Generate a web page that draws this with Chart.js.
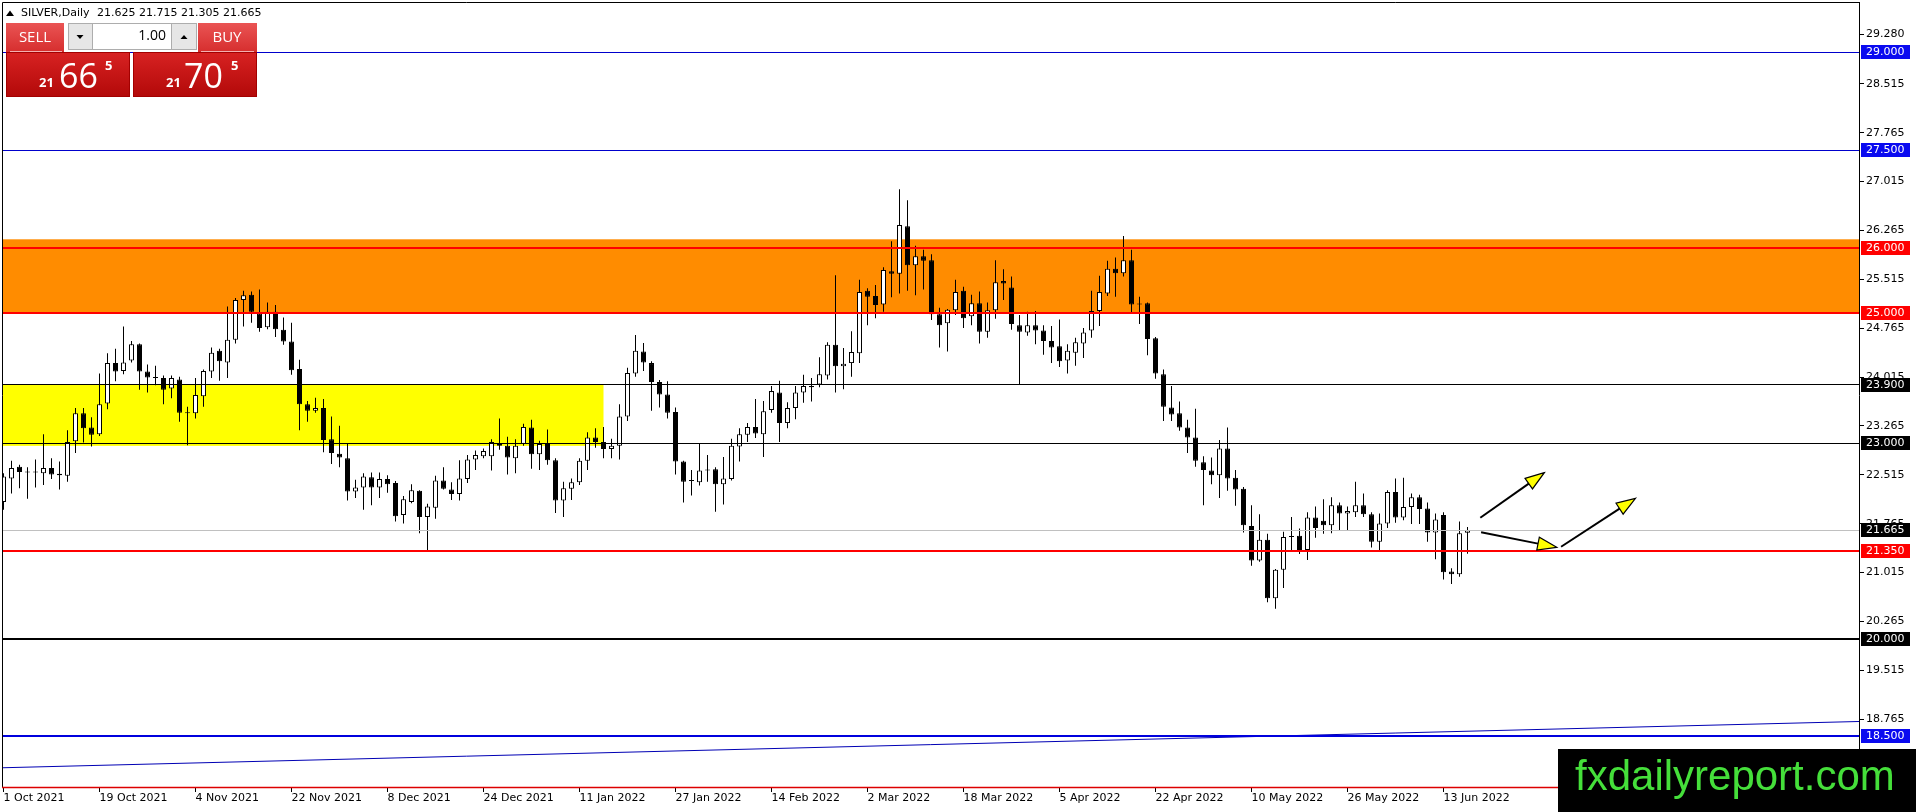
<!DOCTYPE html>
<html>
<head>
<meta charset="utf-8">
<script src="https://cdn.jsdelivr.net/npm/chart.js@4.4.1/dist/chart.umd.min.js"></script>
<style>
html,body{margin:0;padding:0;background:#fff;overflow:hidden}
canvas{display:block}
</style>
</head>
<body>
<canvas id="c" width="1916" height="812" style="width:1916px;height:812px"></canvas>
<script>
// ---------------- DATA ----------------
const symbolTitle = 'SILVER,Daily';
const lastOHLC = ['21.625', '21.715', '21.305', '21.665'];
const bidQuote = ['21', '66', '5'];
const askQuote = ['21', '70', '5'];
const lotSize = '1.00';

const openP = [
22.10,22.46,22.64,22.56,22.56,22.54,22.62,22.53,22.50,23.03,
23.46,23.24,23.14,23.61,24.23,24.11,24.27,24.52,24.10,24.01,
24.00,23.84,23.98,23.47,23.46,23.72,24.10,24.42,24.24,24.59,
25.20,25.28,24.99,24.78,25.02,24.74,24.56,24.14,23.60,23.50,
23.54,23.06,22.84,22.77,22.26,22.32,22.48,22.32,22.45,22.39,
21.90,22.10,22.27,21.87,22.01,22.43,22.29,22.22,22.45,22.75,
22.80,22.80,22.99,22.96,22.77,22.99,23.24,22.83,22.99,22.74,
22.12,22.30,22.40,22.73,23.09,23.02,22.91,22.96,23.41,24.07,
24.41,24.23,23.94,23.75,23.48,22.72,22.43,22.40,22.59,22.60,
22.37,22.45,22.95,23.13,23.25,23.14,23.51,23.78,23.31,23.54,
23.78,23.86,23.90,24.04,24.51,24.18,24.23,24.38,25.34,25.26,
25.13,25.64,25.60,26.33,25.73,25.87,25.81,24.98,24.84,25.04,
25.34,24.95,25.15,24.71,25.04,25.49,25.39,24.81,24.70,24.81,
24.73,24.57,24.49,24.27,24.39,24.53,24.73,25.03,25.30,25.68,
25.61,25.81,25.14,25.15,24.61,24.06,23.55,23.46,23.24,23.09,
22.71,22.58,22.51,22.92,22.47,22.30,21.73,21.20,21.52,20.62,
21.06,21.56,21.58,21.36,21.86,21.81,21.74,22.05,21.92,21.94,
22.05,21.91,21.49,21.77,22.25,21.86,22.02,22.17,22.00,21.63,
21.90,21.03,20.99,21.625];

const highP = [
22.54,22.73,22.67,22.63,22.75,23.14,22.77,22.72,23.20,23.54,
23.54,23.40,24.07,24.38,24.45,24.79,24.57,24.53,24.21,24.19,
24.04,24.04,24.02,23.56,24.00,24.13,24.47,24.45,25.10,25.23,
25.34,25.33,25.36,25.16,25.12,24.93,24.85,24.28,23.65,23.70,
23.68,23.41,23.27,23.00,22.44,22.54,22.55,22.55,22.51,22.42,
22.19,22.37,22.28,22.07,22.50,22.63,22.40,22.74,22.82,22.89,
22.92,23.06,23.38,23.10,23.06,23.30,23.36,23.04,23.21,22.77,
22.41,22.46,22.77,23.17,23.23,23.25,23.07,23.60,24.16,24.66,
24.54,24.26,23.97,23.95,23.55,22.73,22.59,23.00,22.82,22.63,
22.79,23.07,23.23,23.31,23.68,23.65,23.88,23.96,23.63,23.88,
24.05,24.00,24.32,24.55,25.58,24.46,24.72,25.51,25.38,25.43,
25.70,26.10,26.90,26.73,26.03,25.97,25.90,25.08,25.06,25.51,
25.40,25.28,25.33,25.16,25.81,25.67,25.56,24.97,25.02,25.03,
24.81,24.80,24.90,24.52,24.62,24.77,25.34,25.57,25.80,25.85,
26.18,25.97,25.25,25.16,24.63,24.13,23.88,23.64,23.36,23.53,
22.80,22.78,23.05,23.24,22.59,22.33,22.05,21.91,21.61,21.07,
21.64,21.87,21.69,21.94,22.03,22.14,22.17,22.09,22.03,22.41,
22.23,21.94,21.92,22.28,22.46,22.47,22.23,22.21,22.09,21.92,
21.94,21.08,21.80,21.715];

const lowP = [
21.98,22.23,22.31,22.15,22.32,22.36,22.45,22.29,22.41,22.85,
23.01,22.95,23.11,23.52,23.95,24.06,24.24,23.82,23.78,23.89,
23.60,23.69,23.33,22.97,23.38,23.56,24.00,23.96,24.00,24.53,
24.79,24.85,24.71,24.75,24.63,24.51,24.05,23.20,23.33,23.47,
22.86,22.68,22.63,22.12,22.16,21.98,22.05,22.16,22.24,21.80,
21.77,22.08,21.62,21.36,21.84,22.29,22.13,22.12,22.39,22.59,
22.77,22.58,22.90,22.52,22.54,22.96,22.61,22.59,22.67,21.93,
21.87,22.13,22.36,22.59,22.93,22.77,22.77,22.75,23.34,24.02,
24.11,23.50,23.55,23.38,22.52,22.09,22.20,22.35,22.41,21.95,
22.06,22.43,22.72,23.02,23.08,22.79,23.47,23.02,23.23,23.37,
23.62,23.64,23.86,23.98,23.78,23.83,24.02,24.23,24.81,24.92,
25.02,25.24,25.30,25.34,25.27,25.36,24.89,24.47,24.41,24.97,
24.77,24.81,24.53,24.62,24.91,25.20,24.74,23.91,24.65,24.52,
24.36,24.23,24.17,24.07,24.19,24.31,24.62,24.80,25.26,25.25,
25.56,25.01,24.83,24.35,23.99,23.34,23.34,23.19,22.85,22.64,
22.05,22.37,22.16,22.27,22.04,21.63,21.12,21.18,20.56,20.46,
20.78,21.36,21.30,21.21,21.55,21.61,21.62,21.67,21.66,21.87,
21.87,21.40,21.36,21.70,21.78,21.82,21.76,21.76,21.49,21.22,
20.91,20.84,20.95,21.305];

const closeP = [
22.49,22.62,22.56,22.55,22.55,22.62,22.52,22.51,23.02,23.46,
23.23,23.13,23.60,24.23,24.10,24.24,24.52,24.10,24.01,24.00,
23.82,24.00,23.47,23.46,23.74,24.11,24.39,24.26,24.59,25.20,
25.27,25.02,24.77,25.02,24.75,24.56,24.12,23.60,23.50,23.54,
23.05,22.85,22.78,22.26,22.32,22.49,22.32,22.45,22.37,21.88,
22.14,22.28,21.87,22.03,22.43,22.30,22.22,22.46,22.75,22.82,
22.88,23.02,22.96,22.78,22.96,23.25,22.83,22.99,22.74,22.12,
22.31,22.40,22.73,23.09,23.02,22.91,22.96,23.41,24.08,24.42,
24.24,23.94,23.75,23.47,22.72,22.41,22.42,22.58,22.58,22.37,
22.46,22.96,23.14,23.25,23.15,23.49,23.80,23.31,23.54,23.78,
23.88,23.88,24.06,24.51,24.18,24.22,24.40,25.32,25.25,25.12,
25.66,25.60,26.35,25.73,25.87,25.80,24.98,24.81,25.05,25.32,
24.92,25.15,24.71,25.04,25.47,25.45,24.83,24.71,24.81,24.73,
24.57,24.47,24.26,24.42,24.55,24.70,25.03,25.32,25.68,25.61,
25.81,25.13,25.13,24.60,24.07,23.56,23.44,23.24,23.09,22.73,
22.59,22.51,22.92,22.46,22.29,21.74,21.20,21.52,20.62,21.06,
21.56,21.57,21.33,21.86,21.70,21.74,22.05,21.92,21.96,22.05,
21.91,21.49,21.77,22.25,21.86,22.02,22.17,21.99,21.63,21.83,
21.02,20.99,21.62,21.665];

// time axis labels, one every 12 bars
const dateLabels = ['1 Oct 2021','19 Oct 2021','4 Nov 2021','22 Nov 2021','8 Dec 2021','24 Dec 2021',
  '11 Jan 2022','27 Jan 2022','14 Feb 2022','2 Mar 2022','18 Mar 2022','5 Apr 2022','22 Apr 2022',
  '10 May 2022','26 May 2022','13 Jun 2022'];
const labelEvery = 12;

// price axis tick labels
const yTickValues = [29.280,28.515,27.765,27.015,26.265,25.515,24.765,24.015,23.265,22.515,21.765,21.015,20.265,19.515,18.765];

// horizontal levels
const levelPrices = [29.0, 27.5, 26.0, 25.0, 23.9, 23.0, 21.665, 21.35, 20.0, 18.5];
// zones (price bands)
const zoneLow  = [25.0, 22.96];
const zoneHigh = [26.13, 23.90];
const zoneEndBar = [null, 75.0];
// trend line anchors
const trendBars = [-1, 232];
const trendPrices = [18.017, 18.73];
// arrows
const arrowFromBar   = [184.6, 184.7, 194.7];
const arrowFromPrice = [21.857, 21.633, 21.412];
const arrowToBar     = [192.6, 194.15, 204.0];
const arrowToPrice   = [22.548, 21.403, 22.155];

// ---------------- STYLES ----------------
const levelStyles = [
  {line:'#0000cc', w:1, box:'#0a0af0'},
  {line:'#0000cc', w:1, box:'#0a0af0'},
  {line:'#ff0000', w:2, box:'#ff0000'},
  {line:'#ff0000', w:2, box:'#ff0000'},
  {line:'#000000', w:1, box:'#000000'},
  {line:'#000000', w:1, box:'#000000'},
  {line:'#c0c0c0', w:1, box:'#000000'},
  {line:'#ff0000', w:2, box:'#ff0000'},
  {line:'#000000', w:2, box:'#000000'},
  {line:'#0000dd', w:2, box:'#0a0af0'}
];
const zoneColors = ['#ff8c00', '#ffff00'];
const X_MIN = -0.0625, X_MAX = 231.9375;
const Y_MIN = 17.709, Y_MAX = 29.772;
const AXIS_FONT = {family: 'DejaVu Sans', size: 11};

const wickData = openP.map((o, i) => ({x: i, y: [lowP[i], highP[i]]}));
const bodyData = openP.map((o, i) => ({x: i, y: [Math.min(o, closeP[i]), Math.max(o, closeP[i])]}));
const bodyFill = openP.map((o, i) => (closeP[i] - o) >= 0.03 ? '#ffffff' : '#000000');
const trendData = trendBars.map((b, k) => ({x: b, y: trendPrices[k]}));

function crisp(p, w) { return (w % 2 === 1) ? Math.floor(p) + 0.5 : Math.round(p); }
function vgrad(ctx, x, y, w, h, c1, c2) {
  const g = ctx.createLinearGradient(0, y, 0, y + h);
  g.addColorStop(0, c1); g.addColorStop(1, c2);
  ctx.fillStyle = g; ctx.fillRect(x, y, w, h);
}

const mt4Plugin = {
  id: 'mt4',
  beforeDraw(chart) {
    const c = chart.ctx; c.save(); c.fillStyle = '#fff'; c.fillRect(0, 0, chart.width, chart.height); c.restore();
  },
  beforeDatasetsDraw(chart) {
    const {ctx, chartArea: a, scales: {x, y}} = chart;
    ctx.save();
    ctx.beginPath(); ctx.rect(a.left, a.top, a.right - a.left, a.bottom - a.top); ctx.clip();
    zoneLow.forEach((lo, k) => {
      const x1 = a.left;
      const x2 = zoneEndBar[k] == null ? a.right : x.getPixelForValue(zoneEndBar[k]);
      const y1 = y.getPixelForValue(zoneHigh[k]);
      const y2 = y.getPixelForValue(lo);
      ctx.fillStyle = zoneColors[k];
      ctx.fillRect(x1, y1, x2 - x1, y2 - y1);
    });
    ctx.restore();
  },
  afterDatasetsDraw(chart) {
    const {ctx, chartArea: a, scales: {x, y}} = chart;
    ctx.save();
    ctx.beginPath(); ctx.rect(a.left, a.top, a.right - a.left, a.bottom - a.top); ctx.clip();
    levelPrices.forEach((p, k) => {
      const st = levelStyles[k];
      const py = crisp(y.getPixelForValue(p), st.w);
      ctx.strokeStyle = st.line; ctx.lineWidth = st.w;
      ctx.beginPath(); ctx.moveTo(a.left, py); ctx.lineTo(a.right, py); ctx.stroke();
    });
    // arrows
    arrowFromBar.forEach((b, k) => {
      const x1 = x.getPixelForValue(b), y1 = y.getPixelForValue(arrowFromPrice[k]);
      const x2 = x.getPixelForValue(arrowToBar[k]), y2 = y.getPixelForValue(arrowToPrice[k]);
      const ang = Math.atan2(y2 - y1, x2 - x1);
      const L = 19, H = 6.5;
      const bx = x2 - L * Math.cos(ang), by = y2 - L * Math.sin(ang);
      ctx.strokeStyle = '#000'; ctx.lineWidth = 2; ctx.lineCap = 'butt';
      ctx.beginPath(); ctx.moveTo(x1, y1); ctx.lineTo(bx, by); ctx.stroke();
      ctx.beginPath();
      ctx.moveTo(x2, y2);
      ctx.lineTo(bx + H * Math.sin(ang), by - H * Math.cos(ang));
      ctx.lineTo(bx - H * Math.sin(ang), by + H * Math.cos(ang));
      ctx.closePath();
      ctx.fillStyle = '#ffff00'; ctx.fill();
      ctx.lineWidth = 1.2; ctx.strokeStyle = '#000'; ctx.stroke();
    });
    ctx.restore();
  },
  afterDraw(chart) {
    const {ctx, chartArea: a, scales: {y}} = chart;
    ctx.save();
    // frame
    ctx.strokeStyle = '#000'; ctx.lineWidth = 1;
    ctx.beginPath(); ctx.moveTo(2.5, a.bottom); ctx.lineTo(2.5, 2.5); ctx.lineTo(a.right + 0.5, 2.5); ctx.stroke();
    ctx.strokeStyle = '#dd0000'; ctx.lineWidth = 1.5;
    ctx.beginPath(); ctx.moveTo(2, a.bottom - 0.5); ctx.lineTo(a.right, a.bottom - 0.5); ctx.stroke();

    // price boxes on axis
    ctx.font = '11px "DejaVu Sans"'; ctx.textBaseline = 'middle'; ctx.textAlign = 'left';
    levelPrices.forEach((p, k) => {
      const py = y.getPixelForValue(p);
      ctx.fillStyle = levelStyles[k].box;
      ctx.fillRect(a.right + 2, Math.round(py) - 7, 49, 14);
      ctx.fillStyle = '#fff';
      ctx.fillText(p.toFixed(3), a.right + 7, Math.round(py) + 0.5);
    });

    // title
    ctx.fillStyle = '#000';
    ctx.beginPath(); ctx.moveTo(6, 16); ctx.lineTo(14, 16); ctx.lineTo(10, 10.5); ctx.closePath(); ctx.fill();
    ctx.font = '11px "DejaVu Sans"'; ctx.textBaseline = 'middle';
    ctx.fillText(symbolTitle, 21, 13.5);
    ctx.fillText(lastOHLC.join(' '), 97, 13.5);

    // one-click trading panel
    vgrad(ctx, 6, 23, 58, 29, '#ea5454', '#d62e2e');
    vgrad(ctx, 198, 23, 59, 29, '#ea5454', '#d62e2e');
    ctx.fillStyle = '#f4b0b0';
    ctx.fillRect(10, 51, 52, 1); ctx.fillRect(201, 51, 53, 1);
    ctx.fillStyle = '#fff';
    ctx.font = '15px "Open Sans"'; ctx.textAlign = 'center'; ctx.textBaseline = 'middle';
    ctx.fillText('SELL', 35, 38);
    ctx.fillText('BUY', 227, 38);
    // spinner
    ctx.fillStyle = '#e6e6e6'; ctx.fillRect(68, 23, 129, 27);
    ctx.fillStyle = '#fff'; ctx.fillRect(93, 24, 78, 25);
    ctx.strokeStyle = '#adadad'; ctx.lineWidth = 1;
    ctx.strokeRect(68.5, 23.5, 128, 26);
    ctx.beginPath(); ctx.moveTo(92.5, 23.5); ctx.lineTo(92.5, 49.5); ctx.moveTo(171.5, 23.5); ctx.lineTo(171.5, 49.5); ctx.stroke();
    ctx.fillStyle = '#000';
    ctx.beginPath(); ctx.moveTo(76.5, 35); ctx.lineTo(83.5, 35); ctx.lineTo(80, 39); ctx.closePath(); ctx.fill();
    ctx.beginPath(); ctx.moveTo(180.5, 39); ctx.lineTo(187.5, 39); ctx.lineTo(184, 35); ctx.closePath(); ctx.fill();
    ctx.font = '14px "Open Sans"'; ctx.textAlign = 'right'; ctx.textBaseline = 'middle';
    ctx.fillText(lotSize, 166, 36.5);
    // big price panels
    vgrad(ctx, 6, 52, 124, 45, '#d82222', '#b20909');
    vgrad(ctx, 133, 52, 124, 45, '#d82222', '#b20909');
    ctx.strokeStyle = '#a30000';
    ctx.strokeRect(6.5, 52.5, 123, 44); ctx.strokeRect(133.5, 52.5, 123, 44);
    ctx.fillStyle = '#fff'; ctx.textAlign = 'left'; ctx.textBaseline = 'alphabetic';
    [[bidQuote, 39, 59, 105], [askQuote, 166, 184, 231]].forEach(([q, x1, x2, x3]) => {
      ctx.font = 'bold 13px "Open Sans"'; ctx.fillText(q[0], x1, 87);
      ctx.font = '34px "Open Sans"'; ctx.fillText(q[1], x2, 88);
      ctx.font = 'bold 13px "Open Sans"'; ctx.fillText(q[2], x3, 69.5);
    });

    // watermark
    ctx.fillStyle = '#000'; ctx.fillRect(1558, 749, 358, 63);
    ctx.fillStyle = '#45df3a'; ctx.font = '42px "Liberation Sans"'; ctx.textAlign = 'left'; ctx.textBaseline = 'alphabetic';
    ctx.fillText('fxdailyreport.com', 1575, 790);
    ctx.restore();
  }
};

Chart.defaults.font.family = 'DejaVu Sans';

new Chart(document.getElementById('c'), {
  type: 'bar',
  data: {
    datasets: [
      {type: 'line', label: 'trend', data: trendData, borderColor: '#0000b4', borderWidth: 1, pointRadius: 0, order: 0},
      {label: 'wicks', data: wickData, backgroundColor: '#000', borderWidth: 0, barThickness: 1,
       grouped: false, inflateAmount: 0, order: 2},
      {label: 'bodies', data: bodyData, backgroundColor: bodyFill, borderColor: '#000', borderWidth: 1,
       borderSkipped: false, barThickness: 5, grouped: false, inflateAmount: 0, minBarLength: 1, order: 1}
    ]
  },
  options: {
    responsive: false, animation: false, devicePixelRatio: 1, events: [],
    layout: {padding: {left: 3, top: 2, right: 0, bottom: 0}},
    plugins: {legend: {display: false}, tooltip: {enabled: false}},
    scales: {
      x: {
        type: 'linear', min: X_MIN, max: X_MAX, offset: false, position: 'bottom',
        grid: {display: true, drawOnChartArea: false, drawTicks: true, tickLength: 4, color: '#000', offset: false},
        border: {display: false},
        ticks: {autoSkip: false, maxRotation: 0, minRotation: 0, align: 'start', padding: 0, color: '#000', font: AXIS_FONT,
                callback: (v, i) => dateLabels[i]},
        afterBuildTicks: s => { s.ticks = dateLabels.map((_, k) => ({value: k * labelEvery})); },
        afterFit: s => { s.height = 24; s.paddingLeft = 0; s.paddingRight = 0; }
      },
      y: {
        type: 'linear', position: 'right', min: Y_MIN, max: Y_MAX,
        grid: {drawOnChartArea: false, drawTicks: true, tickLength: 5, color: '#000'},
        border: {display: true, color: '#000', width: 1},
        ticks: {autoSkip: false, padding: 2, color: '#000', font: AXIS_FONT, callback: v => Number(v).toFixed(3)},
        afterBuildTicks: s => { s.ticks = yTickValues.map(v => ({value: v})); },
        afterFit: s => { s.width = 57; s.paddingTop = 0; s.paddingBottom = 0; }
      }
    }
  },
  plugins: [mt4Plugin]
});
</script>
</body>
</html>
